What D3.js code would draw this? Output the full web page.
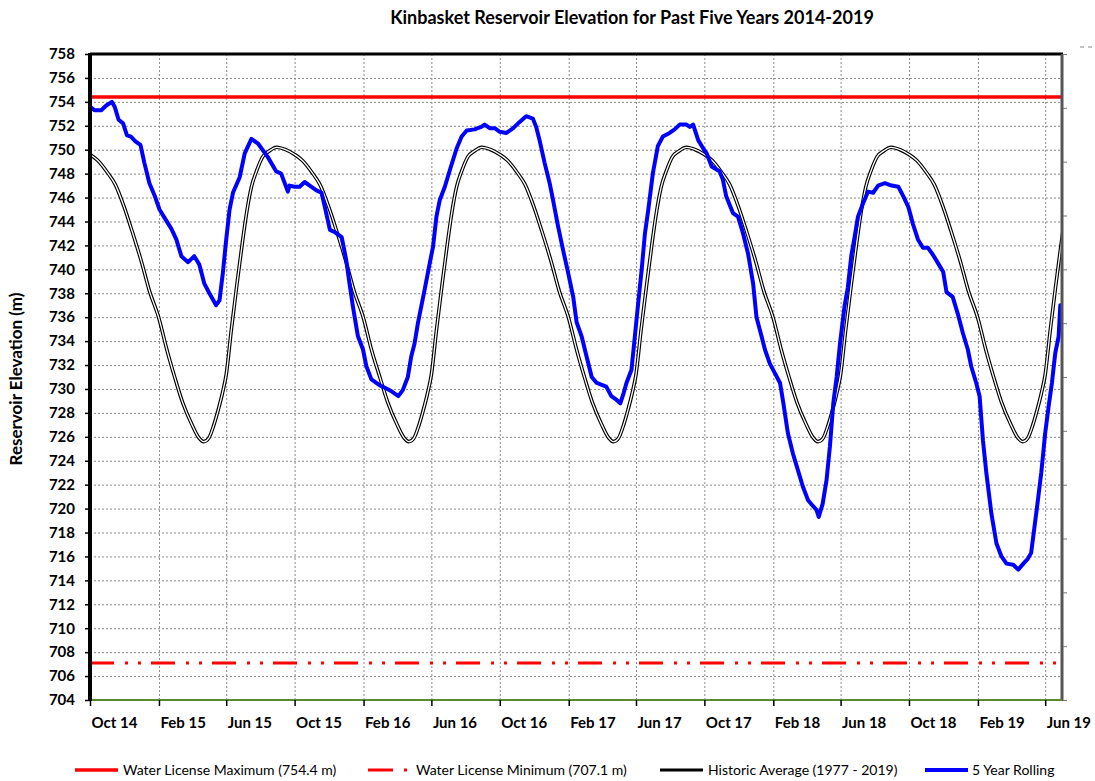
<!DOCTYPE html>
<html>
<head>
<meta charset="utf-8">
<script src="https://cdn.jsdelivr.net/npm/d3@7"></script>
<style>
    body { margin: 0; background: #fff; }
    svg { display: block; font-family: Lato, "Open Sans", sans-serif; }
    .grid line { stroke: #8a8a8a; stroke-width: 1; stroke-dasharray: 2, 2; }
    .grid .domain { display: none; }
</style>
</head>
<body>
<svg id="chart" width="1095" height="781"></svg>
<script>
// 坐标轴刻度
const yTicks = d3.range(704, 759, 2);
const xTickLabels = ["Oct 14", "Feb 15", "Jun 15", "Oct 15", "Feb 16", "Jun 16", "Oct 16",
    "Feb 17", "Jun 17", "Oct 17", "Feb 18", "Jun 18", "Oct 18", "Feb 19", "Jun 19"];

// 许可水位
const licenseMax = 754.4;
const licenseMin = 707.1;

// 历史平均 (1977 - 2019)，一年的曲线，从十月开始
const histDays = ["10-01", "10-15", "11-01", "11-15", "12-01", "12-15", "01-01", "01-15",
    "02-01", "02-15", "03-01", "03-15", "04-01", "04-12", "04-22", "05-01", "05-10", "05-18",
    "05-25", "06-01", "06-10", "06-20", "06-30", "07-08", "07-16", "07-25", "08-05", "08-17",
    "08-30", "09-15"];
const histValues = [749.6, 749.1, 748.1, 747.1, 745.2, 743.2, 740.6, 738.2,
    735.9, 733.3, 731.0, 728.9, 727.0, 726.0, 725.6, 725.9, 727.0, 728.3,
    729.6, 731.2, 734.9, 738.7, 742.3, 744.9, 746.9, 748.2, 749.4, 749.9,
    750.2, 750.0];
const histYears = [2014, 2015, 2016, 2017, 2018];

// 5 Year Rolling
const rolling = [
    ["2014-10-01", 753.6], ["2014-10-09", 753.3], ["2014-10-21", 753.3], ["2014-10-30", 753.7],
    ["2014-11-09", 754.0], ["2014-11-14", 753.6], ["2014-11-21", 752.5], ["2014-11-29", 752.2],
    ["2014-12-06", 751.2], ["2014-12-13", 751.1], ["2014-12-21", 750.7], ["2014-12-30", 750.4],
    ["2015-01-06", 748.9], ["2015-01-15", 747.2], ["2015-01-24", 746.2], ["2015-02-02", 745.0],
    ["2015-02-11", 744.3], ["2015-02-23", 743.4], ["2015-03-04", 742.5], ["2015-03-13", 741.1],
    ["2015-03-25", 740.6], ["2015-04-05", 741.1], ["2015-04-14", 740.4], ["2015-04-23", 738.8],
    ["2015-05-02", 738.0], ["2015-05-14", 737.0], ["2015-05-20", 737.4], ["2015-05-26", 739.7],
    ["2015-06-01", 742.5], ["2015-06-07", 745.0], ["2015-06-13", 746.4], ["2015-06-25", 747.7],
    ["2015-07-04", 749.7], ["2015-07-16", 750.9], ["2015-07-28", 750.5], ["2015-08-14", 749.4],
    ["2015-08-29", 748.2], ["2015-09-07", 748.0], ["2015-09-19", 746.5], ["2015-09-22", 747.0],
    ["2015-10-01", 746.9], ["2015-10-10", 746.9], ["2015-10-19", 747.3], ["2015-10-28", 747.0],
    ["2015-11-09", 746.6], ["2015-11-18", 746.4], ["2015-11-24", 745.2], ["2015-12-03", 743.3],
    ["2015-12-12", 743.1], ["2015-12-24", 742.7], ["2016-01-01", 740.8], ["2016-01-07", 738.8],
    ["2016-01-13", 736.9], ["2016-01-22", 734.4], ["2016-01-31", 733.3], ["2016-02-06", 731.9],
    ["2016-02-15", 730.8], ["2016-03-01", 730.3], ["2016-03-10", 730.1], ["2016-03-22", 729.8],
    ["2016-04-03", 729.4], ["2016-04-11", 729.9], ["2016-04-20", 731.0], ["2016-04-26", 732.7],
    ["2016-05-02", 733.8], ["2016-05-08", 735.5], ["2016-05-14", 736.9], ["2016-05-20", 738.3],
    ["2016-05-29", 740.5], ["2016-06-04", 741.9], ["2016-06-10", 744.4], ["2016-06-16", 745.8],
    ["2016-06-25", 746.9], ["2016-07-04", 748.3], ["2016-07-16", 750.1], ["2016-07-25", 751.1],
    ["2016-08-03", 751.6], ["2016-08-17", 751.7], ["2016-08-29", 751.9], ["2016-09-04", 752.1],
    ["2016-09-13", 751.8], ["2016-09-22", 751.8], ["2016-10-01", 751.5], ["2016-10-13", 751.4],
    ["2016-10-25", 751.8], ["2016-11-05", 752.3], ["2016-11-17", 752.8], ["2016-11-29", 752.6],
    ["2016-12-05", 751.9], ["2016-12-11", 750.8], ["2016-12-20", 748.9], ["2016-12-29", 747.2],
    ["2017-01-04", 745.8], ["2017-01-13", 743.6], ["2017-01-22", 741.6], ["2017-01-31", 739.7],
    ["2017-02-09", 737.7], ["2017-02-15", 735.6], ["2017-02-24", 734.4], ["2017-03-05", 732.7],
    ["2017-03-14", 731.0], ["2017-03-23", 730.5], ["2017-04-09", 730.2], ["2017-04-18", 729.4],
    ["2017-04-27", 729.1], ["2017-05-04", 728.8], ["2017-05-09", 729.5], ["2017-05-15", 730.5],
    ["2017-05-24", 731.6], ["2017-05-30", 734.4], ["2017-06-05", 737.2], ["2017-06-11", 739.9],
    ["2017-06-17", 743.0], ["2017-06-23", 745.0], ["2017-07-01", 748.0], ["2017-07-10", 750.3],
    ["2017-07-19", 751.1], ["2017-07-31", 751.4], ["2017-08-09", 751.7], ["2017-08-18", 752.1],
    ["2017-08-30", 752.1], ["2017-09-05", 751.9], ["2017-09-11", 752.1], ["2017-09-20", 750.8],
    ["2017-09-29", 750.1], ["2017-10-05", 749.7], ["2017-10-14", 748.6], ["2017-10-28", 748.2],
    ["2017-11-03", 747.5], ["2017-11-09", 746.1], ["2017-11-15", 745.4], ["2017-11-21", 744.7],
    ["2017-11-30", 744.4], ["2017-12-09", 743.0], ["2017-12-18", 741.3], ["2017-12-27", 738.8],
    ["2018-01-02", 736.0], ["2018-01-11", 734.4], ["2018-01-17", 733.3], ["2018-01-26", 732.1],
    ["2018-02-04", 731.3], ["2018-02-13", 730.5], ["2018-02-19", 728.8], ["2018-02-27", 726.3],
    ["2018-03-08", 724.6], ["2018-03-17", 723.2], ["2018-03-26", 721.8], ["2018-04-04", 720.7],
    ["2018-04-13", 720.2], ["2018-04-19", 719.9], ["2018-04-23", 719.3], ["2018-04-30", 720.4],
    ["2018-05-07", 722.4], ["2018-05-13", 725.2], ["2018-05-19", 728.8], ["2018-05-25", 731.0],
    ["2018-05-31", 733.8], ["2018-06-08", 736.9], ["2018-06-14", 738.5], ["2018-06-20", 741.1],
    ["2018-06-26", 742.7], ["2018-07-02", 744.4], ["2018-07-11", 745.5], ["2018-07-20", 746.5],
    ["2018-07-29", 746.4], ["2018-08-07", 747.0], ["2018-08-19", 747.2], ["2018-08-31", 747.0],
    ["2018-09-12", 746.9], ["2018-09-21", 746.1], ["2018-09-30", 745.2], ["2018-10-08", 743.8],
    ["2018-10-17", 742.5], ["2018-10-26", 741.8], ["2018-11-04", 741.8], ["2018-11-13", 741.2],
    ["2018-11-22", 740.5], ["2018-12-01", 739.8], ["2018-12-07", 738.1], ["2018-12-18", 737.7],
    ["2018-12-27", 736.3], ["2019-01-05", 734.7], ["2019-01-14", 733.3], ["2019-01-20", 731.9],
    ["2019-01-29", 730.5], ["2019-02-04", 729.4], ["2019-02-10", 725.7], ["2019-02-16", 723.0],
    ["2019-02-25", 719.6], ["2019-03-06", 717.1], ["2019-03-15", 716.0], ["2019-03-24", 715.4],
    ["2019-04-05", 715.3], ["2019-04-14", 714.9], ["2019-04-23", 715.4], ["2019-05-01", 715.8],
    ["2019-05-07", 716.3], ["2019-05-13", 718.5], ["2019-05-19", 720.7], ["2019-05-25", 723.0],
    ["2019-06-01", 726.3], ["2019-06-07", 728.5], ["2019-06-13", 730.5], ["2019-06-19", 733.0],
    ["2019-06-25", 734.4], ["2019-06-28", 737.0]
];

// 图例
const legendLabels = ["Water License Maximum (754.4 m)", "Water License Minimum (707.1 m)",
    "Historic Average (1977 - 2019)", "5 Year Rolling"];

const parseDay = d3.timeParse("%Y-%m-%d");
const parseTick = d3.timeParse("%b %y");

// 历史平均：把一年的曲线按年份展开
let historic = [];
histYears.forEach(function (yr) {
    for (let i = 0; i < histDays.length; i++) {
        let month = +histDays[i].slice(0, 2);
        let year = month >= 10 ? yr : yr + 1;
        historic.push({ date: parseDay(year + "-" + histDays[i]), value: histValues[i] });
    }
});
let rollData = rolling.map(function (d) {
    return { date: parseDay(d[0]), value: d[1] };
});

// 画图区域
let plotLeft = 90, plotRight = 1062, plotTop = 54, plotBottom = 700;

let x = d3.scaleTime()
    .domain([parseDay("2014-10-01"), parseDay("2019-07-01")])
    .range([plotLeft, plotRight]);
let y = d3.scaleLinear()
    .domain([704, 758])
    .range([plotBottom, plotTop]);

let svg = d3.select("#chart");

svg.append("defs").append("clipPath").attr("id", "plotClip")
    .append("rect")
    .attr("x", plotLeft).attr("y", plotTop - 5)
    .attr("width", plotRight - plotLeft).attr("height", plotBottom - plotTop + 10);

// 网格线
let xTicks = xTickLabels.map(parseTick);

svg.append("g")
    .attr("class", "grid")
    .attr("transform", "translate(0," + plotBottom + ")")
    .call(d3.axisBottom(x).tickValues(xTicks.slice(1)).tickSize(-(plotBottom - plotTop)).tickFormat(""));

svg.append("g")
    .attr("class", "grid")
    .attr("transform", "translate(" + plotLeft + ",0)")
    .call(d3.axisLeft(y).tickValues(yTicks.slice(1, -1)).tickSize(-(plotRight - plotLeft)).tickFormat(""));

let plot = svg.append("g").attr("clip-path", "url(#plotClip)");

// 最低许可水位
plot.append("line")
    .attr("x1", plotLeft).attr("x2", plotRight)
    .attr("y1", y(licenseMin)).attr("y2", y(licenseMin))
    .attr("stroke", "#ff0000")
    .attr("stroke-width", 3)
    .attr("stroke-dasharray", "24,11,3,10,3,10");

// 历史平均：黑边白芯的双线
let histLine = d3.line()
    .x(function (d) { return x(d.date); })
    .y(function (d) { return y(d.value); })
    .curve(d3.curveMonotoneX);

plot.append("path")
    .datum(historic)
    .attr("d", histLine)
    .attr("fill", "none")
    .attr("stroke", "#000")
    .attr("stroke-width", 3.6);
plot.append("path")
    .datum(historic)
    .attr("d", histLine)
    .attr("fill", "none")
    .attr("stroke", "#fff")
    .attr("stroke-width", 1.3);

// 5 Year Rolling
let rollLine = d3.line()
    .x(function (d) { return x(d.date); })
    .y(function (d) { return y(d.value); });

plot.append("path")
    .datum(rollData)
    .attr("d", rollLine)
    .attr("fill", "none")
    .attr("stroke", "#0000ff")
    .attr("stroke-width", 4)
    .attr("stroke-linejoin", "round")
    .attr("stroke-linecap", "round");

// 最高许可水位
plot.append("line")
    .attr("x1", plotLeft).attr("x2", plotRight)
    .attr("y1", y(licenseMax)).attr("y2", y(licenseMax))
    .attr("stroke", "#ff0000")
    .attr("stroke-width", 3.5);

// 边框
svg.append("line")
    .attr("x1", plotLeft).attr("x2", plotRight + 1)
    .attr("y1", plotTop).attr("y2", plotTop)
    .attr("stroke", "#000").attr("stroke-width", 3);
svg.append("line")
    .attr("x1", plotRight).attr("x2", plotRight)
    .attr("y1", plotTop).attr("y2", plotBottom + 1)
    .attr("stroke", "#555").attr("stroke-width", 3);

// 右侧小刻度
let y2 = d3.scaleLinear().domain([0, 12]).range([plotBottom, plotTop]);
svg.append("g")
    .attr("transform", "translate(" + (plotRight + 1) + ",0)")
    .call(d3.axisRight(y2).ticks(12).tickSize(4).tickFormat(""))
    .call(function (g) {
        g.select(".domain").remove();
        g.selectAll("line").attr("stroke", "#777");
    });

// 底部坐标轴
let xAxis = svg.append("g")
    .attr("transform", "translate(0," + plotBottom + ")")
    .call(d3.axisBottom(x).tickValues(xTicks).tickSize(6).tickFormat(d3.timeFormat("%b %y")));
xAxis.select(".domain")
    .attr("stroke", "#5a8a2a").attr("stroke-width", 2)
    .attr("d", "M" + plotLeft + ",0H" + plotRight);
xAxis.selectAll(".tick line").attr("stroke", "#000").attr("stroke-width", 1.5);
xAxis.selectAll(".tick text")
    .attr("text-anchor", "start")
    .attr("dx", 1)
    .attr("y", 17)
    .attr("fill", "#000")
    .style("font-size", "15px")
    .style("font-weight", "bold")
    .style("font-family", "Lato, sans-serif");

// 左侧坐标轴
let yAxis = svg.append("g")
    .attr("transform", "translate(" + plotLeft + ",0)")
    .call(d3.axisLeft(y).tickValues(yTicks).tickSize(5).tickPadding(10));
yAxis.select(".domain").attr("stroke", "#000").attr("stroke-width", 4)
    .attr("d", "M0," + (plotTop - 1) + "V" + (plotBottom + 1));
yAxis.selectAll(".tick line").attr("stroke", "#000").attr("stroke-width", 1.5);
yAxis.selectAll(".tick text")
    .attr("fill", "#000")
    .style("font-size", "15px")
    .style("font-weight", "bold")
    .style("font-family", "Lato, sans-serif");

// 标题
svg.append("text")
    .attr("x", 632).attr("y", 24)
    .attr("text-anchor", "middle")
    .style("font-size", "18px")
    .style("font-weight", "bold")
    .text("Kinbasket Reservoir Elevation for Past Five Years 2014-2019");

svg.append("text")
    .attr("transform", "translate(22," + 379 + ") rotate(-90)")
    .attr("text-anchor", "middle")
    .style("font-size", "17px")
    .style("font-weight", "bold")
    .text("Reservoir Elevation (m)");

// 右上角的小标记
svg.append("line")
    .attr("x1", 1080).attr("x2", 1093).attr("y1", 47).attr("y2", 47)
    .attr("stroke", "#888").attr("stroke-width", 1).attr("stroke-dasharray", "4,4");

// 图例
let legendX = [75, 368, 660, 925];
let legendY = 770;
let legend = svg.append("g").style("font-size", "14px");

legend.append("line")
    .attr("x1", legendX[0]).attr("x2", legendX[0] + 43)
    .attr("y1", legendY).attr("y2", legendY)
    .attr("stroke", "#ff0000").attr("stroke-width", 3.5);
legend.append("line")
    .attr("x1", legendX[1]).attr("x2", legendX[1] + 40)
    .attr("y1", legendY).attr("y2", legendY)
    .attr("stroke", "#ff0000").attr("stroke-width", 3)
    .attr("stroke-dasharray", "25,11,3,50");
legend.append("line")
    .attr("x1", legendX[2]).attr("x2", legendX[2] + 43)
    .attr("y1", legendY).attr("y2", legendY)
    .attr("stroke", "#000").attr("stroke-width", 3);
legend.append("line")
    .attr("x1", legendX[3]).attr("x2", legendX[3] + 43)
    .attr("y1", legendY).attr("y2", legendY)
    .attr("stroke", "#0000ff").attr("stroke-width", 4);

let legendTextX = [123, 416, 708, 972];
for (let i = 0; i < legendLabels.length; i++) {
    legend.append("text")
        .attr("x", legendTextX[i]).attr("y", legendY + 5)
        .attr("fill", "#000")
        .text(legendLabels[i]);
}
</script>
</body>
</html>
